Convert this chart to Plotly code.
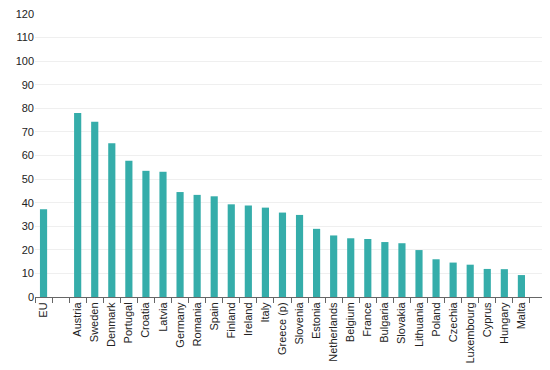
import plotly.graph_objects as go

categories = ["EU", " ", "Austria", "Sweden", "Denmark", "Portugal", "Croatia", "Latvia",
              "Germany", "Romania", "Spain", "Finland", "Ireland", "Italy", "Greece (p)",
              "Slovenia", "Estonia", "Netherlands", "Belgium", "France", "Bulgaria",
              "Slovakia", "Lithuania", "Poland", "Czechia", "Luxembourg", "Cyprus",
              "Hungary", "Malta", "  "]
values = [37.2, None, 78.0, 74.3, 65.2, 57.8, 53.5, 53.1,
          44.5, 43.3, 42.7, 39.3, 38.8, 37.9, 35.8,
          34.8, 28.9, 26.1, 24.9, 24.6, 23.3,
          22.8, 19.9, 16.0, 14.6, 13.7, 11.9,
          11.8, 9.3, None]
y_ticks = list(range(0, 121, 10))

fig = go.Figure(go.Bar(x=categories, y=values, marker=dict(color="#35ADAA", line=dict(width=0))))

fig.update_layout(
    width=542, height=362,
    margin=dict(l=27, r=3, t=6, b=73, autoexpand=False),
    plot_bgcolor="white", paper_bgcolor="white",
    bargap=0.58,
    showlegend=False,
    font=dict(family="Liberation Sans, Arial, sans-serif", size=11, color="#222222"),
)
fig.update_xaxes(
    type="category", categoryorder="array", categoryarray=categories,
    tickangle=-90, showline=True, linecolor="#666666", linewidth=1,
    ticks="outside", tickson="boundaries", ticklen=5, tickcolor="#666666",
    showgrid=False, automargin=False, ticklabeloverflow="allow",
    tickfont=dict(size=11, color="#222222"),
)
fig.update_yaxes(
    range=[0, 120], tickvals=y_ticks, showgrid=True, gridcolor="#efefef", gridwidth=1,
    zeroline=False, showline=False, ticks="", automargin=False, ticklabeloverflow="allow",
    tickfont=dict(size=11, color="#222222"),
)

fig.write_html("out.html")
